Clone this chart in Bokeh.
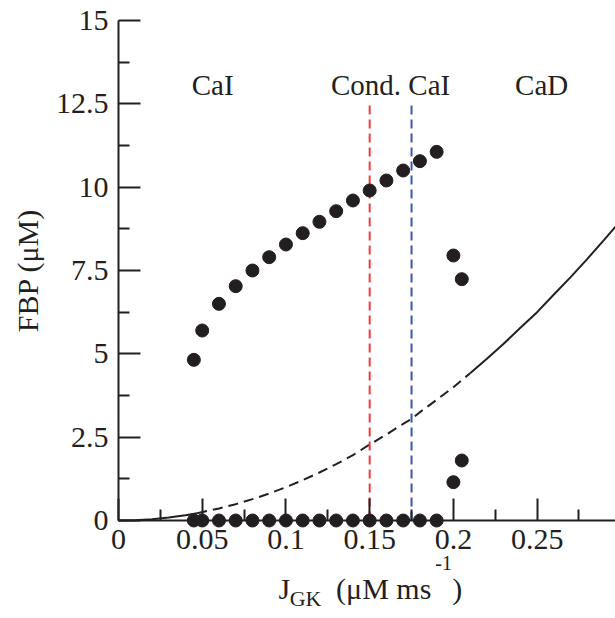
import math
from bokeh.plotting import figure
from bokeh.models import Range1d, FixedTicker, ColumnDataSource, Label
from bokeh.core.properties import value
from bokeh.embed import file_html
from bokeh.resources import INLINE

# ---------------- data ----------------
upper_x = [0.045, 0.05, 0.06, 0.07, 0.08, 0.09, 0.10, 0.11, 0.12, 0.13, 0.14, 0.15,
           0.16, 0.17, 0.18, 0.19, 0.20, 0.205]
upper_y = [4.82, 5.70, 6.50, 7.03, 7.50, 7.90, 8.28, 8.62, 8.96, 9.28, 9.60, 9.90,
           10.20, 10.50, 10.78, 11.06, 7.95, 7.24]
zero_x = [0.045, 0.05, 0.06, 0.07, 0.08, 0.09, 0.10, 0.11, 0.12, 0.13, 0.14, 0.15,
          0.16, 0.17, 0.18, 0.19]
zero_y = [0, 0, 0, 0, 0, 0, 0, 0, 0, 0, 0, 0, 0, 0, 0, 0]
low_x = [0.20, 0.205]
low_y = [1.15, 1.80]

curve_a_x = [0.0, 0.01, 0.02, 0.03, 0.04, 0.047]
curve_a_y = [0.0, 0.01, 0.04, 0.09, 0.16, 0.22]
curve_b_x = [0.047, 0.06, 0.07, 0.08, 0.09, 0.10, 0.11, 0.12, 0.13, 0.14, 0.15,
             0.16, 0.17, 0.175, 0.18, 0.19, 0.20, 0.21]
curve_b_y = [0.22, 0.36, 0.49, 0.64, 0.81, 1.00, 1.21, 1.44, 1.69, 1.96, 2.28,
             2.58, 2.90, 3.05, 3.25, 3.62, 4.00, 4.42]
curve_c_x = [0.21, 0.22, 0.23, 0.24, 0.25, 0.26, 0.27, 0.28, 0.29, 0.30]
curve_c_y = [4.42, 4.85, 5.30, 5.78, 6.25, 6.78, 7.30, 7.85, 8.42, 9.00]

boundary_x = [0.15, 0.175]
boundary_top = [12.5, 12.5]
boundary_colors = ["#ee3b3b", "#3a56b0"]

region_names = ["CaI", "Cond. CaI", "CaD"]
region_x = [0.0562, 0.1625, 0.2527]
region_y = [13.08, 13.08, 13.08]

x_ticks = [0, 0.05, 0.10, 0.15, 0.20, 0.25]
x_tick_labels = ["0", "0.05", "0.1", "0.15", "0.2", "0.25"]
x_minor = [0.025, 0.075, 0.125, 0.175, 0.225, 0.275]
y_ticks = [0, 2.5, 5, 7.5, 10, 12.5, 15]
y_tick_labels = ["0", "2.5", "5", "7.5", "10", "12.5", "15"]
y_minor = [1.25, 3.75, 6.25, 8.75, 11.25, 13.75]

FONT = "Liberation Serif"
INK = "#231f20"
X_END = 0.2968

# the frame covers the whole canvas; axes are pinned at x=0 and y=0
p = figure(width=615, height=618, output_backend="svg", toolbar_location=None,
           x_range=Range1d(-0.07046, X_END), y_range=Range1d(-2.94, 15.6),
           min_border_left=0, min_border_right=0, min_border_top=0,
           min_border_bottom=0)
p.outline_line_color = None
p.grid.visible = False
p.background_fill_color = "white"
p.border_fill_color = "white"

# curve
p.line(curve_a_x, curve_a_y, line_color=INK, line_width=2)
p.line(curve_b_x, curve_b_y, line_color=INK, line_width=2, line_dash="10 6")
p.line(curve_c_x, curve_c_y, line_color=INK, line_width=2)

# boundaries
bsrc = ColumnDataSource(dict(x=boundary_x, y0=[0, 0], y1=boundary_top, c=boundary_colors))
p.segment(x0="x", y0="y0", x1="x", y1="y1", color="c", line_width=2,
          line_dash="9 5", source=bsrc)

# points
p.scatter(upper_x, upper_y, size=13, color=INK)
p.scatter(zero_x, zero_y, size=13, color=INK)
p.scatter(low_x, low_y, size=13, color=INK)

# region labels
rsrc = ColumnDataSource(dict(x=region_x, y=region_y, t=region_names))
p.text(x="x", y="y", text="t", source=rsrc, text_font=value(FONT),
       text_font_size="29px", text_align="center", text_baseline="alphabetic",
       text_color=INK)

# axes
xa = p.xaxis[0]
xa.ticker = FixedTicker(ticks=x_ticks, minor_ticks=x_minor)
xa.major_label_overrides = {t: l for t, l in zip(x_ticks, x_tick_labels)}
xa.fixed_location = 0
xa.bounds = (0, X_END)
ya = p.yaxis[0]
ya.ticker = FixedTicker(ticks=y_ticks, minor_ticks=y_minor)
ya.major_label_overrides = {t: l for t, l in zip(y_ticks, y_tick_labels)}
ya.fixed_location = 0
ya.bounds = (0, 15)
for ax in (xa, ya):
    ax.axis_line_width = 2
    ax.axis_line_color = INK
    ax.major_tick_line_width = 2
    ax.minor_tick_line_width = 2
    ax.major_tick_line_color = INK
    ax.minor_tick_line_color = INK
    ax.major_tick_in = 22
    ax.major_tick_out = 0
    ax.minor_tick_in = 11
    ax.minor_tick_out = 0
    ax.major_label_text_font = FONT
    ax.major_label_text_font_size = "30px"
    ax.major_label_text_color = INK
xa.major_label_standoff = 9
ya.major_label_standoff = 10

def piece(x, y, t, size, angle=0.0):
    p.add_layout(Label(x=x, y=y, text=t, text_font=FONT, text_font_size=size,
                       text_align="center", text_baseline="alphabetic",
                       angle=angle, text_color=INK))

# y-axis title
piece(-0.0544, 7.5, "FBP (μM)", "30px", angle=math.pi / 2)

# x-axis title built from pieces (subscript / superscript)
piece(0.0991, -2.04, "J", "30px")
piece(0.1117, -2.33, "GK", "22px")
piece(0.1584, -2.04, "(μM ms", "30px")
piece(0.1942, -1.26, "-1", "20px")
piece(0.2023, -2.04, ")", "30px")

open("out.html", "w").write(file_html(p, INLINE))
